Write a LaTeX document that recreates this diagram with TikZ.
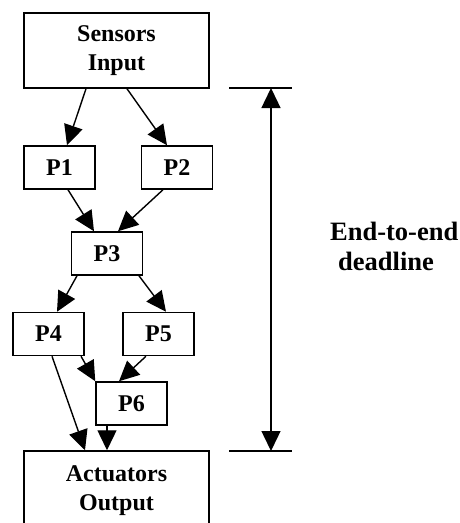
\documentclass[tikz,border=0pt]{standalone}
\usepackage{fontspec}
\setmainfont{Liberation Serif}
\usetikzlibrary{arrows.meta}
\begin{document}
\begin{tikzpicture}[x=1pt,y=-1pt,
  box/.style={draw,line width=1.5pt,fill=white,font=\bfseries\fontsize{24}{29}\selectfont,align=center,inner sep=0pt},
  pbox/.style={box,minimum width=71pt,minimum height=43pt},
  bigbox/.style={box,minimum width=185pt},
  conn/.style={line width=1.4pt,-{Triangle[length=20pt,width=19pt]}},
  lbl/.style={font=\bfseries\fontsize{26.5}{30}\selectfont,inner sep=0pt}]
\useasboundingbox (0,0) rectangle (460,523);
\node[bigbox,minimum height=75pt] (S) at (116.5,50.5) {Sensors\\Input};
\node[pbox] (P1) at (59.5,167.5) {P1};
\node[pbox] (P2) at (177,167.5) {P2};
\node[pbox] (P3) at (107,253.5) {P3};
\node[pbox] (P4) at (48.5,334) {P4};
\node[pbox] (P5) at (158.5,334) {P5};
\node[pbox] (P6) at (131.5,403.5) {P6};
\node[bigbox,minimum height=80pt] (A) at (116.5,491) {Actuators\\Output};
\draw[conn] ([xshift=-30.5pt]S.south) -- ([xshift=7.5pt]P1.north);
\draw[conn] ([xshift=10.5pt]S.south) -- ([xshift=-10pt]P2.north);
\draw[conn] ([xshift=8.5pt]P1.south) -- ([xshift=-13pt]P3.north);
\draw[conn] ([xshift=-14pt]P2.south) -- ([xshift=11pt]P3.north);
\draw[conn] ([xshift=-30pt]P3.south) -- ([xshift=8.5pt]P4.north);
\draw[conn] ([xshift=32pt]P3.south) -- ([xshift=7.5pt]P5.north);
\draw[conn] ([xshift=32.5pt]P4.south) -- (P6.north west);
\draw[conn] ([xshift=-12.5pt]P5.south) -- ([xshift=-12.5pt]P6.north);
\draw[conn] ([xshift=3.5pt]P4.south) -- ([xshift=-31.5pt]A.north);
\draw[conn] ([xshift=-24.5pt]P6.south) -- ([xshift=-9.5pt]A.north);
\coordinate (tl) at (229,88);
\coordinate (tr) at (292,88);
\coordinate (bl) at (229,451);
\coordinate (br) at (292,451);
\coordinate (dt) at (271,88);
\coordinate (db) at (271,451);
\draw[line width=1.4pt] (tl) -- (tr);
\draw[line width=1.4pt] (bl) -- (br);
\draw[line width=1.4pt,{Triangle[length=20pt,width=19pt]}-{Triangle[length=20pt,width=19pt]}] (dt) -- (db);
\node[lbl,anchor=base west] (L1) at (330,240) {End-to-end};
\node[lbl,anchor=base west] (L2) at (338,270) {deadline};
\end{tikzpicture}
\end{document}
